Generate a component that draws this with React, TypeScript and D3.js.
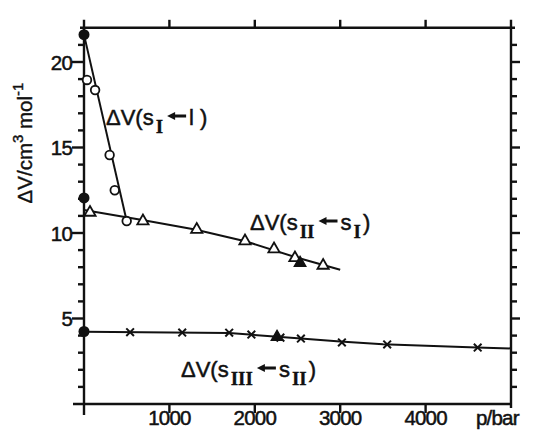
import React, { useEffect, useRef } from "react";
import * as d3 from "d3";

// pressures (bar) and volume changes (cm3/mol)
const meltP = [35, 130, 300, 360, 500];
const meltV = [18.95, 18.36, 14.56, 12.5, 10.7];
const meltFitP = [0, 500];
const meltFitV = [21.6, 10.7];

const s2s1P = [70, 690, 1320, 1885, 2225, 2470, 2800];
const s2s1V = [11.2, 10.7, 10.2, 9.53, 9.06, 8.54, 8.1];
const s2s1FitP = [0, 700, 1300, 1900, 2500, 3000];
const s2s1FitV = [11.35, 10.75, 10.2, 9.5, 8.55, 7.85];

const s3s2P = [540, 1150, 1700, 1960, 2300, 2540, 3020, 3550, 4610];
const s3s2V = [4.2, 4.18, 4.17, 4.06, 3.88, 3.83, 3.6, 3.48, 3.3];
const s3s2FitP = [0, 1700, 2500, 3000, 3500, 4600, 5000];
const s3s2FitV = [4.22, 4.15, 3.85, 3.65, 3.5, 3.3, 3.25];

// filled points
const filledCircleV = [21.6, 12.05, 4.24];
const filledTriangle = [[2530, 8.25], [2260, 3.92]];

const xTicks = [1000, 2000, 3000, 4000];
const yMajor = [5, 10, 15, 20];

// curve labels: phase on the left, phase on the right (subscripts)
const labels = [
  { from: "I", to: "l", toSub: "" },
  { from: "II", to: "s", toSub: "I" },
  { from: "III", to: "s", toSub: "II" },
];

const W = 545;
const H = 444;
const FONT = "'Liberation Sans', Arial, sans-serif";
const SERIF = "'Liberation Serif', serif";

export default function App() {
  const ref = useRef<SVGSVGElement>(null);

  useEffect(() => {
    const svg = d3.select(ref.current);
    svg.selectAll("*").remove();

    const x = d3.scaleLinear().domain([0, 5000]).range([84, 511]);
    const y = d3.scaleLinear().domain([0, 22]).range([404, 27.8]);
    const ink = "#111";

    const g = svg.append("g");

    // frame
    const axis = g.append("g").attr("stroke", ink).attr("stroke-width", 2.4).attr("fill", "none");
    axis.append("line").attr("x1", x(0)).attr("x2", x(0)).attr("y1", y(22) - 8).attr("y2", y(0) + 11);
    axis.append("line").attr("x1", x(0) - 11).attr("x2", x(5000)).attr("y1", y(0)).attr("y2", y(0));
    axis.append("line").attr("x1", x(0) - 4).attr("x2", x(5000) + 4).attr("y1", y(22)).attr("y2", y(22));
    axis.append("line").attr("x1", x(5000)).attr("x2", x(5000)).attr("y1", y(22) - 8).attr("y2", y(0) + 4);

    const yAll = d3.range(1, 22);
    axis.selectAll(".yl").data(yAll).join("line")
      .attr("x1", x(0)).attr("x2", (d) => x(0) - (d % 5 === 0 ? 12 : 6))
      .attr("y1", (d) => y(d)).attr("y2", (d) => y(d));
    axis.selectAll(".yr").data(yAll).join("line")
      .attr("x1", x(5000)).attr("x2", (d) => x(5000) + (d % 5 === 0 ? 9 : 6))
      .attr("y1", (d) => y(d)).attr("y2", (d) => y(d));
    axis.selectAll(".xb").data(xTicks).join("line")
      .attr("x1", (d) => x(d)).attr("x2", (d) => x(d))
      .attr("y1", y(0)).attr("y2", y(0) + 9);
    axis.selectAll(".xt").data(xTicks).join("line")
      .attr("x1", (d) => x(d)).attr("x2", (d) => x(d))
      .attr("y1", y(22)).attr("y2", y(22) - 8);

    // tick labels
    const lab = g.append("g").attr("font-family", FONT).attr("font-size", 20.5).attr("fill", ink)
      .attr("stroke", ink).attr("stroke-width", 0.5).attr("letter-spacing", -0.8);
    lab.selectAll(".xl").data(xTicks).join("text")
      .attr("x", (d) => x(d)).attr("y", 425).attr("text-anchor", "middle").text((d) => d);
    lab.append("text").attr("x", 476).attr("y", 425).text("p/bar");
    lab.selectAll(".ylab").data(yMajor).join("text")
      .attr("x", 72).attr("y", (d) => y(d) + 7.5).attr("text-anchor", "end").text((d) => d);

    // y title
    const yt = g.append("text").attr("font-family", FONT).attr("font-size", 20.5).attr("fill", ink)
      .attr("stroke", ink).attr("stroke-width", 0.4)
      .attr("transform", "translate(32,143) rotate(-90)").attr("text-anchor", "middle");
    yt.append("tspan").text("ΔV/cm");
    yt.append("tspan").attr("font-size", 15).attr("dy", -9).text("3");
    yt.append("tspan").attr("dy", 9).text(" mol");
    yt.append("tspan").attr("font-size", 15).attr("dy", -9).text("-1");

    // fitted lines
    const line = d3.line<[number, number]>().x((d) => x(d[0])).y((d) => y(d[1]));
    const fits: [number[], number[]][] = [
      [meltFitP, meltFitV],
      [s2s1FitP, s2s1FitV],
      [s3s2FitP, s3s2FitV],
    ];
    fits.forEach(([ps, vs]) => {
      g.append("path")
        .attr("d", line(ps.map((p, i) => [p, vs[i]] as [number, number])))
        .attr("fill", "none").attr("stroke", ink).attr("stroke-width", 2);
    });

    // open circles
    g.selectAll(".oc").data(meltP.map((p, i) => [p, meltV[i]])).join("circle")
      .attr("cx", (d) => x(d[0])).attr("cy", (d) => y(d[1])).attr("r", 4.3)
      .attr("fill", "white").attr("stroke", ink).attr("stroke-width", 1.8);

    // filled circles at p = 0
    g.selectAll(".fc").data(filledCircleV).join("circle")
      .attr("cx", x(0)).attr("cy", (d) => y(d)).attr("r", 5.5).attr("fill", ink);

    // triangles
    const tri = d3.symbol().type(d3.symbolTriangle).size(55);
    g.selectAll(".tr").data(s2s1P.map((p, i) => [p, s2s1V[i]])).join("path")
      .attr("d", tri).attr("transform", (d) => `translate(${x(d[0])},${y(d[1])})`)
      .attr("fill", "white").attr("stroke", ink).attr("stroke-width", 1.8);
    g.selectAll(".ft").data(filledTriangle).join("path")
      .attr("d", tri).attr("transform", (d) => `translate(${x(d[0])},${y(d[1])})`)
      .attr("fill", ink).attr("stroke", ink).attr("stroke-width", 1.5);

    // crosses
    const cross = d3.symbol().type(d3.symbolX).size(40);
    g.selectAll(".cx").data(s3s2P.map((p, i) => [p, s3s2V[i]])).join("path")
      .attr("d", cross).attr("transform", (d) => `translate(${x(d[0])},${y(d[1])})`)
      .attr("fill", "none").attr("stroke", ink).attr("stroke-width", 2);

    // curve labels, laid out piece by piece so the arrow sits between the texts
    const place = [
      [106, 125],
      [250, 230],
      [181, 377],
    ];
    labels.forEach((lb, i) => {
      let cx = place[i][0];
      const base = place[i][1];
      const lg = g.append("g");
      const piece = (txt: string, sub: boolean, gap: number) => {
        const t = lg.append("text").attr("x", cx).attr("y", base + (sub ? 8 : 0))
          .attr("font-family", sub ? SERIF : FONT).attr("font-weight", sub ? "bold" : "normal")
          .attr("font-size", sub ? 19 : 22).attr("fill", ink)
          .attr("stroke", ink).attr("stroke-width", sub ? 0.3 : 0.5).text(txt);
        cx += (t.node() as SVGTextElement).getComputedTextLength() + gap;
      };
      piece("ΔV(s", false, 2);
      piece(lb.from, true, 4);
      // arrow pointing left
      const ay = base - 9;
      lg.append("path")
        .attr("d", `M${cx},${ay} L${cx + 8},${ay - 4} L${cx + 8},${ay - 1.6} L${cx + 19},${ay - 1.6} L${cx + 19},${ay + 1.6} L${cx + 8},${ay + 1.6} L${cx + 8},${ay + 4} Z`)
        .attr("fill", ink);
      cx += 22;
      piece(lb.to, false, 2);
      if (lb.toSub) piece(lb.toSub, true, 2);
      else cx += 4;
      piece(")", false, 0);
    });
  }, []);

  return (
    <svg
      ref={ref}
      width={W}
      height={H}
      style={{ position: "absolute", left: 0, top: 0, background: "white" }}
    />
  );
}
